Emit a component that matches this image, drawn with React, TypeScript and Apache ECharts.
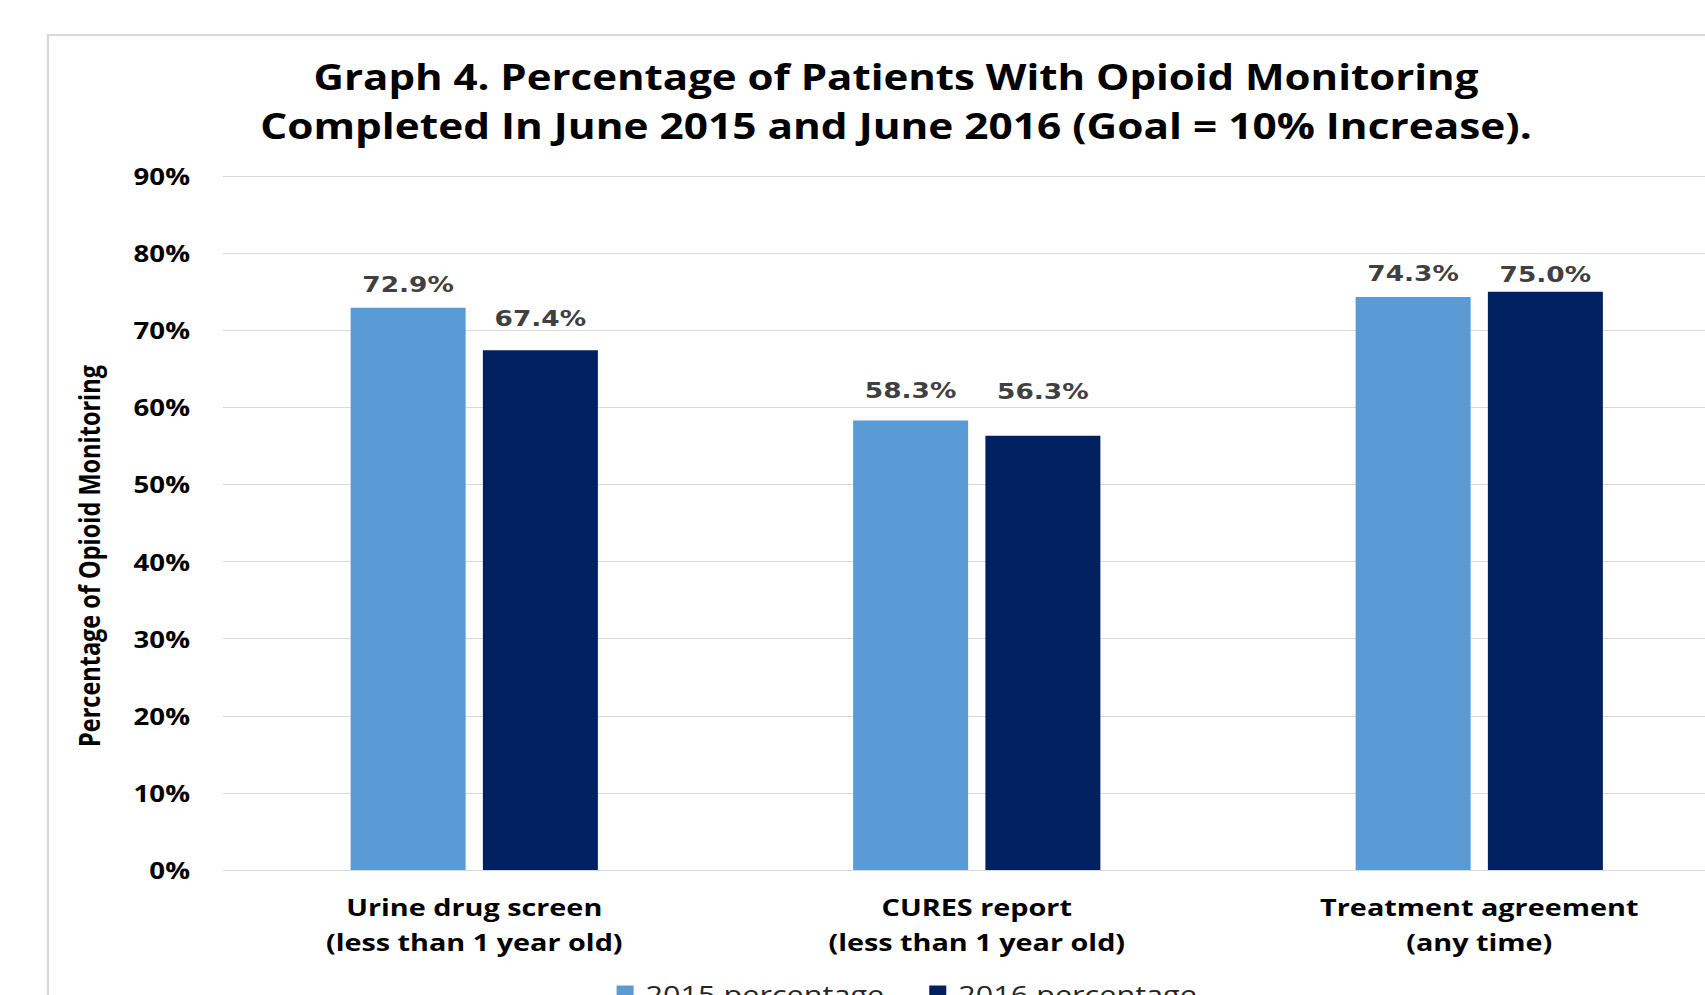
import React, { useEffect, useRef } from "react";
import * as echarts from "echarts";

const categories = [
  "Urine drug screen\n(less than 1 year old)",
  "CURES report\n(less than 1 year old)",
  "Treatment agreement\n(any time)",
];
const seriesNames = ["2015 percentage", "2016 percentage"];
const values2015 = [72.9, 58.3, 74.3];
const values2016 = [67.4, 56.3, 75.0];
const titleLines = [
  "Graph 4. Percentage of Patients With Opioid Monitoring",
  "Completed In June 2015 and June 2016 (Goal = 10% Increase).",
];
const yAxisTitle = "Percentage of Opioid Monitoring";

// styling: how far (px) each value label's centre sits above its bar top, as in the picture
const labelLift2015 = [24, 30, 24];
const labelLift2016 = [32, 45, 17];

const COLORS = ["#5b9bd5", "#002060"];
const SANS = "'Open Sans', 'Noto Sans', sans-serif";
// the reference picture is horizontally stretched; draw narrower and stretch with CSS
const S = 1.2;
const INNER_W = 1470;
const H = 995;

export default function App() {
  const ref = useRef<HTMLDivElement>(null);
  useEffect(() => {
    document.body.style.margin = "0";
    document.body.style.overflow = "hidden";
    const chart = echarts.init(ref.current!, null, { renderer: "svg" });
    const LABEL_HALF = 11;
    const mkLabel = (lift: number) => ({
      show: true,
      position: "top" as const,
      distance: lift - LABEL_HALF,
      color: "#404040",
      fontFamily: "'DejaVu Sans', Verdana, sans-serif",
      fontWeight: "bold" as const,
      fontSize: 22,
      formatter: (p: any) => `${Number(p.value).toFixed(1)}%`,
    });
    chart.setOption({
      animation: false,
      backgroundColor: "#ffffff",
      graphic: [
        {
          type: "rect",
          shape: { x: 48 / S, y: 35, width: 1697 / S, height: 1100 },
          style: { fill: "none", stroke: "#d9d9d9", lineWidth: 2 },
          z: -10,
          silent: true,
        },
        {
          type: "text",
          x: 896 / S,
          y: 76,
          style: {
            text: titleLines[0],
            textAlign: "center",
            textVerticalAlign: "middle",
            fontFamily: SANS,
            fontWeight: "bold",
            fontSize: 35,
            fill: "#000000",
          },
        },
        {
          type: "text",
          x: 896 / S,
          y: 125,
          style: {
            text: titleLines[1],
            textAlign: "center",
            textVerticalAlign: "middle",
            fontFamily: SANS,
            fontWeight: "bold",
            fontSize: 35.3,
            fill: "#000000",
          },
        },
        {
          type: "text",
          x: 89 / S,
          y: 556,
          rotation: Math.PI / 2,
          style: {
            text: yAxisTitle,
            textAlign: "center",
            textVerticalAlign: "middle",
            fontFamily: SANS,
            fontWeight: "bold",
            fontSize: 23.5,
            fill: "#000000",
          },
        },
      ],
      grid: { left: 223 / S, right: INNER_W - 1730.5 / S, top: 176, bottom: 125 },
      legend: {
        data: seriesNames,
        left: 616 / S - 4.5,
        top: 976,
        icon: "rect",
        itemWidth: 17 / S,
        itemHeight: 17,
        itemGap: 45 / S,
        textStyle: {
          fontFamily: SANS,
          fontSize: 25.5,
          color: "#262626",
          padding: [0, 0, 0, 5],
        },
      },
      xAxis: {
        type: "category",
        data: categories,
        axisLine: { show: true, lineStyle: { color: "#d9d9d9", width: 1 } },
        axisTick: { show: false },
        axisLabel: {
          margin: 19,
          lineHeight: 35,
          fontFamily: SANS,
          fontWeight: "bold",
          fontSize: 24,
          color: "#000000",
          interval: 0,
        },
      },
      yAxis: {
        type: "value",
        min: 0,
        max: 90,
        interval: 10,
        axisLine: { show: false },
        axisTick: { show: false },
        splitLine: { lineStyle: { color: "#d9d9d9", width: 1 } },
        axisLabel: {
          margin: 33 / S,
          formatter: "{value}%",
          fontFamily: SANS,
          fontWeight: "bold",
          fontSize: 23,
          color: "#000000",
        },
      },
      series: [
        {
          name: seriesNames[0],
          type: "bar",
          data: values2015.map((v, i) => ({ value: v, label: mkLabel(labelLift2015[i]) })),
          barWidth: 115 / S,
          barGap: "15%",
          itemStyle: { color: COLORS[0] },
        },
        {
          name: seriesNames[1],
          type: "bar",
          data: values2016.map((v, i) => ({ value: v, label: mkLabel(labelLift2016[i]) })),
          barWidth: 115 / S,
          barGap: "15%",
          itemStyle: { color: COLORS[1] },
        },
      ],
    });
    return () => chart.dispose();
  }, []);
  return (
    <div style={{ width: 1705, height: H, overflow: "hidden", position: "relative" }}>
      <div
        ref={ref}
        style={{
          width: INNER_W,
          height: H,
          transform: `scale(${S}, 1)`,
          transformOrigin: "0 0",
        }}
      />
    </div>
  );
}
